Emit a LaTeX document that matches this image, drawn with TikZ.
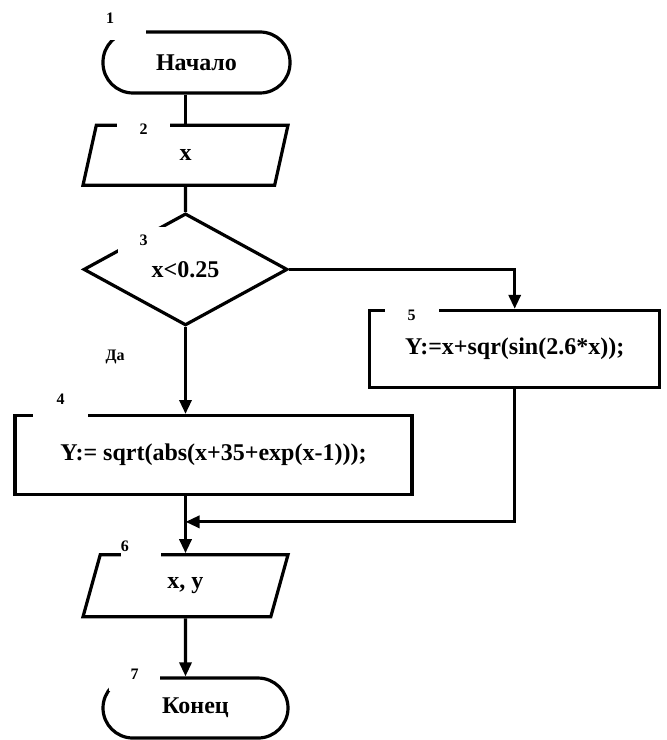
\documentclass[tikz,border=0pt]{standalone}
\usepackage{fontspec}
\setmainfont{Liberation Serif}
\usetikzlibrary{shapes.geometric}
\usetikzlibrary{arrows.meta}
\usetikzlibrary{positioning}
\usetikzlibrary{calc}

\begin{document}
\begin{tikzpicture}[line width=3.2pt, >={Triangle[length=14pt,width=12pt]},
    bigfont/.style = {font=\bfseries\fontsize{24}{27}\selectfont},
    termnode/.style = {draw, rectangle, rounded corners=30pt, minimum width=187pt, minimum height=61pt, bigfont},
    ionode/.style = {draw, trapezium, trapezium left angle=53, trapezium right angle=127, trapezium stretches body, minimum width=205pt, minimum height=60pt, bigfont},
    ifnode/.style = {draw, diamond, aspect=1.8, minimum width=204pt, minimum height=112pt, inner sep=0pt, bigfont},
    procnode/.style = {draw, rectangle, bigfont},
    numnode/.style = {fill=white, inner sep=0pt, font=\bfseries\fontsize{16}{16}\selectfont},
    yesnode/.style = {font=\bfseries\fontsize{16}{16}\selectfont}]
    \useasboundingbox (0,0) rectangle (667pt,740pt);
    \node[termnode] (1) at (196.5pt,677.5pt) {Начало};
    \node[ionode] (2) [below=29pt of 1, xshift=-11pt] {x};
    \node[ifnode] (3) [below=25pt of 2] {x<0.25};
    \node[procnode, minimum width=397pt, minimum height=79pt] (4) [below=87pt of 3, xshift=28pt] {Y:= sqrt(abs(x+35+exp(x-1)));};
    \node[procnode, minimum width=290pt, minimum height=77pt] (5) [right=79pt of 3, yshift=-79.5pt] {Y:=x+sqr(sin(2.6*x));};
    \node[ionode, minimum height=62pt] (6) [below=57pt of 4, xshift=-28pt] {x, y};
    \node[termnode, minimum width=185pt, minimum height=60pt] (7) [below=58pt of 6, xshift=10pt] {Конец};
    % block numbers, breaking the outlines
    \node[numnode, text width=40pt, align=left, minimum height=44pt] (n1) at ($(1.center)+(-70.5pt,44.5pt)$) {1};
    \node[numnode, minimum width=52pt, minimum height=20pt] (n2) at ($(2.center)+(-42pt,26pt)$) {2};
    \node[numnode, minimum width=52pt, minimum height=27pt] (n3) at ($(3.center)+(-42pt,29pt)$) {3};
    \node[numnode, minimum width=55pt, minimum height=40pt] (n4) at ($(4.center)+(-153pt,55.5pt)$) {4};
    \node[numnode, minimum width=54pt, minimum height=20pt] (n5) at ($(5.center)+(-103pt,33.5pt)$) {5};
    \node[numnode, text width=40pt, align=left, minimum height=46pt] (n6) at ($(6.center)+(-44.5pt,40pt)$) {6};
    \node[numnode, minimum width=51pt, minimum height=34pt] (n7) at ($(7.center)+(-61pt,34pt)$) {7};
    \node[yesnode] (da) [below left=18pt and 56pt of 3.south] {Да};
    \draw (2.north |- 1.south) -- (2.north);
    \draw (2) -- (3);
    \draw[->] (3) -- (3.south |- 4.north);
    \draw[->] (3.east) -| (5.north);
    \draw[->] (4.south -| 6.north) -- (6.north);
    \coordinate (j) at ($(4.south -| 6.north)!0.45!(6.north)$);
    \draw[->] (5.south) |- (j);
    \draw[->] (6) -- (6.south |- 7.north);
\end{tikzpicture}
\end{document}
